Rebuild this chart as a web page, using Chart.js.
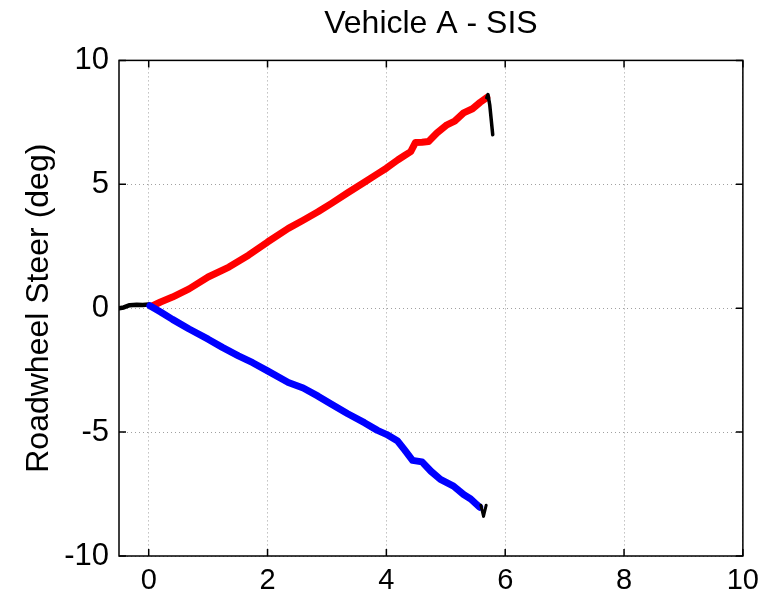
<!DOCTYPE html>
<html>
<head>
<meta charset="utf-8">
<script src="https://cdn.jsdelivr.net/npm/chart.js@4.4.0/dist/chart.umd.min.js"></script>
<style>
    html, body { margin: 0; padding: 0; background: #fff; }
</style>
</head>
<body>
<canvas id="graficoSteer" width="767" height="600"></canvas>
<script>
// valores
var xTicks = [0, 2, 4, 6, 8, 10];
var yTicks = [-10, -5, 0, 5, 10];

var inicioX = [-0.5, -0.42, -0.32, -0.2, -0.1, 0.0];
var inicioY = [0.0, 0.03, 0.12, 0.14, 0.13, 0.15];

var vermelhoX = [0.05, 0.2, 0.4, 0.68, 1.0, 1.35, 1.68, 2.0, 2.35, 2.6, 2.85, 3.07, 3.35, 3.63, 3.85, 4.0, 4.19, 4.3, 4.41, 4.49, 4.6, 4.71, 4.85, 5.02, 5.15, 5.3, 5.45, 5.58, 5.69];
var vermelhoY = [0.08, 0.25, 0.45, 0.78, 1.26, 1.66, 2.14, 2.67, 3.22, 3.55, 3.89, 4.22, 4.66, 5.08, 5.42, 5.65, 5.98, 6.15, 6.32, 6.69, 6.7, 6.73, 7.07, 7.4, 7.55, 7.88, 8.05, 8.31, 8.5];

var azulX = [0.02, 0.2, 0.4, 0.68, 1.0, 1.24, 1.51, 1.75, 2.0, 2.35, 2.6, 2.85, 3.07, 3.35, 3.63, 3.85, 4.0, 4.19, 4.3, 4.44, 4.6, 4.75, 4.91, 5.13, 5.3, 5.42, 5.52, 5.57];
var azulY = [0.1, -0.15, -0.45, -0.84, -1.25, -1.58, -1.92, -2.2, -2.53, -3.0, -3.22, -3.55, -3.87, -4.26, -4.62, -4.93, -5.09, -5.36, -5.7, -6.14, -6.2, -6.58, -6.91, -7.18, -7.52, -7.7, -7.92, -8.03];

var fimX = [5.69, 5.71, 5.74, 5.79];
var fimY = [8.5, 8.62, 8.2, 7.0];

var vX = [5.59, 5.635, 5.68];
var vY = [-7.95, -8.4, -7.95];

function Pontos(xs, ys) {
    return xs.map(function (x, i) { return { x: x, y: ys[i] }; });
}

function Linha(xs, ys, cor, largura) {
    return {
        data: Pontos(xs, ys),
        borderColor: cor,
        backgroundColor: cor,
        borderWidth: largura,
        showLine: true,
        pointRadius: 0,
        borderCapStyle: 'round',
        borderJoinStyle: 'round',
        tension: 0
    };
}

var fonte = 'Liberation Sans, Arial, Helvetica, sans-serif';

// caixa e marcas para dentro, como no matlab
var caixaMatlab = {
    id: 'caixaMatlab',
    afterDraw: function (chart) {
        var ctx = chart.ctx;
        var a = chart.chartArea;
        var sx = chart.scales.x;
        var sy = chart.scales.y;
        var tam = 7;
        ctx.save();
        ctx.strokeStyle = '#000';
        ctx.lineWidth = 1.5;
        ctx.strokeRect(a.left, a.top, a.right - a.left, a.bottom - a.top);
        ctx.beginPath();
        xTicks.forEach(function (v) {
            var px = sx.getPixelForValue(v);
            ctx.moveTo(px, a.bottom);
            ctx.lineTo(px, a.bottom - tam);
            ctx.moveTo(px, a.top);
            ctx.lineTo(px, a.top + tam);
        });
        yTicks.forEach(function (v) {
            var py = sy.getPixelForValue(v);
            ctx.moveTo(a.left, py);
            ctx.lineTo(a.left + tam, py);
            ctx.moveTo(a.right, py);
            ctx.lineTo(a.right - tam, py);
        });
        ctx.stroke();
        ctx.restore();
    }
};

var ctx = document.getElementById('graficoSteer').getContext('2d');

var grafico = new Chart(ctx, {
    type: 'scatter',
    data: {
        datasets: [
            Linha(vX, vY, '#000000', 3),
            Linha(fimX, fimY, '#000000', 3.5),
            Linha(azulX, azulY, '#0000ff', 7),
            Linha(vermelhoX, vermelhoY, '#ff0000', 7),
            Linha(inicioX, inicioY, '#000000', 4.5)
        ]
    },
    options: {
        responsive: false,
        animation: false,
        layout: { padding: { left: 0, right: 20, top: 0, bottom: 0 } },
        plugins: {
            legend: { display: false },
            tooltip: { enabled: false },
            title: {
                display: true,
                text: 'Vehicle A - SIS',
                color: '#000',
                fullSize: false,
                font: { family: fonte, size: 32, weight: 'normal' },
                padding: { top: 5, bottom: 17 }
            }
        },
        scales: {
            x: {
                type: 'linear',
                min: -0.5,
                max: 10,
                afterBuildTicks: function (s) {
                    s.ticks = xTicks.map(function (v) { return { value: v }; });
                },
                afterFit: function (s) { s.height = 44; },
                ticks: {
                    color: '#000',
                    padding: 8,
                    maxRotation: 0,
                    font: { family: fonte, size: 29 }
                },
                grid: { color: '#a0a0a0', lineWidth: 1, drawTicks: false },
                border: { display: false, dash: [1, 3] }
            },
            y: {
                type: 'linear',
                min: -10,
                max: 10,
                afterBuildTicks: function (s) {
                    s.ticks = yTicks.map(function (v) { return { value: v }; });
                },
                afterFit: function (s) { s.width = 119; },
                title: {
                    display: true,
                    text: 'Roadwheel Steer (deg)',
                    color: '#000',
                    font: { family: fonte, size: 32 },
                    padding: { top: 20, bottom: 0 }
                },
                ticks: {
                    color: '#000',
                    padding: 10,
                    font: { family: fonte, size: 31 }
                },
                grid: { color: '#a0a0a0', lineWidth: 1, drawTicks: false },
                border: { display: false, dash: [1, 3] }
            }
        }
    },
    plugins: [caixaMatlab]
});
</script>
</body>
</html>
